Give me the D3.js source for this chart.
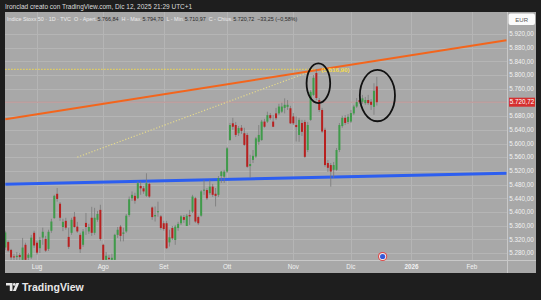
<!DOCTYPE html>
<html>
<head>
<meta charset="utf-8">
<script src="https://cdn.jsdelivr.net/npm/d3@7"></script>
<style>
  html, body { margin: 0; padding: 0; background: #1e1e1e; }
  svg { display: block; font-family: "Liberation Sans", Arial, sans-serif; }
</style>
</head>
<body>
<div id="chart"></div>
<script>
// daily bars, first one is index -11 (mid June), index 0 = 1 Jul 2025
const startIndex = -11;

const open = [
  5296,5312,5289,5270,5268,5274,5260,5304,5266,5267,
  5339,5310,5294,5325,5321,5292,5345,5382,5453,5424,
  5356,5374,5327,5339,5386,5357,5333,5304,5368,5343,
  5383,5339,5377,5406,5304,5260,5266,5260,5260,5333,
  5357,5336,5343,5391,5440,5447,5440,5476,5469,5447,
  5482,5413,5387,5401,5387,5367,5367,5311,5353,5318,
  5353,5367,5385,5359,5391,5401,5440,5385,5389,5463,
  5464,5455,5474,5453,5450,5505,5503,5518,5610,5659,
  5654,5630,5646,5630,5625,5534,5552,5562,5605,5610,
  5664,5664,5683,5664,5688,5688,5693,5704,5707,5703,
  5679,5654,5625,5660,5663,5581,5669,5742,5806,5727,
  5698,5640,5543,5537,5523,5523,5581,5651,5675,5663,
  5664,5688,5708,5727,5722,5718,5727,5722,5707,5766.84
];
const high = [
  5345,5316,5292,5278,5283,5280,5324,5310,5280,5333,
  5345,5316,5327,5354,5330,5348,5380,5450,5470,5429,
  5380,5383,5354,5383,5400,5371,5339,5350,5397,5365,
  5415,5412,5403,5421,5307,5283,5275,5278,5336,5356,
  5362,5354,5394,5445,5460,5456,5489,5489,5476,5513,
  5485,5416,5416,5430,5391,5374,5374,5348,5359,5362,
  5371,5391,5391,5394,5406,5450,5444,5389,5464,5494,
  5470,5494,5482,5470,5505,5520,5523,5590,5660,5675,
  5663,5651,5654,5646,5631,5567,5581,5619,5654,5669,
  5672,5693,5689,5683,5704,5716,5719,5732,5727,5710,
  5689,5679,5675,5669,5669,5663,5756,5800,5816.9,5733,
  5704,5646,5552,5543,5546,5587,5660,5681,5683,5686,
  5698,5713,5733,5739,5742,5736,5742,5730,5776,5794.70
];
const low = [
  5289,5283,5260,5258,5258,5260,5257,5257,5256,5263,
  5295,5275,5280,5304,5283,5286,5339,5380,5430,5374,
  5344,5348,5292,5333,5354,5339,5280,5298,5333,5336,
  5330,5333,5371,5316,5255,5254,5255,5254,5258,5324,
  5314,5314,5339,5386,5432,5424,5438,5450,5453,5444,
  5441,5377,5372,5386,5348,5345,5292,5299,5318,5304,
  5345,5362,5368,5359,5362,5397,5368,5362,5386,5450,
  5435,5450,5444,5416,5444,5485,5485,5514,5608,5640,
  5619,5622,5628,5593,5529,5500,5543,5558,5596,5608,
  5646,5660,5669,5648,5669,5683,5689,5688,5698,5657,
  5654,5606,5605,5622,5558,5575,5666,5739,5727,5692,
  5631,5532,5517,5474,5500,5520,5575,5646,5654,5657,
  5660,5683,5704,5716,5716,5713,5713,5698,5684,5710.97
];
const close = [
  5340,5287,5267,5268,5272,5268,5296,5260,5275,5325,
  5302,5281,5318,5342,5287,5342,5372,5447,5438,5383,
  5371,5354,5298,5377,5356,5343,5291,5343,5356,5356,
  5339,5383,5394,5321,5260,5272,5262,5266,5333,5348,
  5330,5340,5389,5437,5450,5433,5484,5469,5460,5484,
  5445,5385,5391,5402,5353,5350,5294,5326,5323,5357,
  5365,5387,5377,5389,5387,5445,5372,5367,5460,5465,
  5440,5474,5450,5447,5499,5518,5518,5586,5654,5649,
  5625,5645,5637,5596,5532,5540,5564,5615,5625,5664,
  5649,5683,5674,5649,5674,5708,5708,5713,5713,5659,
  5659,5648,5669,5634,5561,5654,5751,5792,5733,5698,
  5635,5537,5529,5518,5537,5581,5654,5675,5660,5678,
  5689,5708,5721,5721,5732,5727,5718,5713,5754,5720.72
];

const priceTicks = [5280,5320,5360,5400,5440,5480,5520,5560,5600,5640,5680,5720,5760,5800,5840,5880,5920];
const monthLabels = ["Lug","Ago","Set","Ott","Nov","Dic","2026","Feb"];
const monthIndex = [0,23,44,66,89,109,130,151];

const lastPrice = 5720.72;
const highLevel = 5816.90;
// drawings: [index, price] pairs
const orangeLine = [[-11,5671],[163,5902]];
const blueLine = [[-11,5481],[163,5513]];
const yellowRay = [[14,5560],[97,5816.9]];
const levelLine = [[-11,5816.9],[97,5816.9]];
// ellipses: [index, price, radius in bars, radius in price]
const circles = [[97.7,5776,4.1,58],[118.2,5740,6.1,75]];
const eventIndex = 120;

const legend = [
  {t:"Indice Stoxx 50 · 1D · TVC", c:"#ececec", gap:0},
  {t:"O - Apert.", c:"#ececec", gap:3},
  {t:"5.766,84", c:"#2a2a2a", gap:0.5},
  {t:"H - Max.", c:"#ececec", gap:3},
  {t:"5.794,70", c:"#2a2a2a", gap:0.5},
  {t:"L - Min.", c:"#ececec", gap:3},
  {t:"5.710,97", c:"#2a2a2a", gap:0.5},
  {t:"C - Chius.", c:"#ececec", gap:3},
  {t:"5.720,72", c:"#2a2a2a", gap:0.5},
  {t:"−33,25 (−0,58%)", c:"#2a2a2a", gap:3}
];

const drawChart = () => {
  const width = 541, height = 300;
  const pane = {left: 5, top: 12, right: 507, bottom: 260};
  const it = d3.formatLocale({decimal: ",", thousands: ".", grouping: [3], currency: ["", "€"]});
  const fmt = it.format(",.2f");

  const x = d3.scaleLinear().domain([0, 100]).range([37, 325]);
  const y = d3.scaleLinear().domain([5280, 5920]).range([253, 34]);

  const bars = open.map((o, k) => ({i: startIndex + k, o, h: high[k], l: low[k], c: close[k]}));

  const svg = d3.select("#chart").append("svg")
      .attr("width", width)
      .attr("height", height);

  svg.append("rect").attr("width", width).attr("height", height).attr("fill", "#1e1e1e");
  svg.append("rect")
      .attr("x", 5).attr("y", 12).attr("width", 531).attr("height", 261)
      .attr("fill", "#a8a8a8");

  svg.append("defs").append("clipPath").attr("id", "pane")
    .append("rect")
      .attr("x", pane.left).attr("y", pane.top)
      .attr("width", pane.right - pane.left).attr("height", pane.bottom - pane.top);

  const grid = svg.append("g").attr("clip-path", "url(#pane)");
  grid.selectAll(".hg").data(priceTicks).enter().append("line")
      .attr("x1", pane.left).attr("x2", pane.right)
      .attr("y1", d => Math.round(y(d)) + 0.5).attr("y2", d => Math.round(y(d)) + 0.5)
      .attr("stroke", "#b5b5b5");
  grid.selectAll(".vg").data(monthIndex).enter().append("line")
      .attr("x1", d => Math.round(x(d)) + 0.5).attr("x2", d => Math.round(x(d)) + 0.5)
      .attr("y1", pane.top).attr("y2", pane.bottom)
      .attr("stroke", "#b5b5b5");

  // axis separators
  svg.append("line").attr("x1", 507.5).attr("x2", 507.5).attr("y1", 12).attr("y2", 273)
      .attr("stroke", "#c8c8c8");
  svg.append("line").attr("x1", 5).attr("x2", 536).attr("y1", 260.5).attr("y2", 260.5)
      .attr("stroke", "#c8c8c8");

  const plot = svg.append("g").attr("clip-path", "url(#pane)");
  const line = d3.line().x(d => x(d[0])).y(d => y(d[1]));

  plot.append("line")
      .attr("x1", pane.left).attr("x2", pane.right)
      .attr("y1", y(lastPrice)).attr("y2", y(lastPrice))
      .attr("stroke", "#c98a8a").attr("stroke-width", 1).attr("opacity", 0.7);

  plot.append("path").datum(yellowRay).attr("d", line)
      .attr("fill", "none").attr("stroke", "#e4d98c").attr("stroke-width", 1.2)
      .attr("stroke-dasharray", "1.2,1.8");
  plot.append("path").datum(levelLine).attr("d", line)
      .attr("fill", "none").attr("stroke", "#f5dc4a").attr("stroke-width", 1.2)
      .attr("stroke-dasharray", "1.2,1.8");

  plot.append("path").datum(orangeLine).attr("d", line)
      .attr("fill", "none").attr("stroke", "#f3651c").attr("stroke-width", 2);
  plot.append("path").datum(blueLine).attr("d", line)
      .attr("fill", "none").attr("stroke", "#2c5ef0").attr("stroke-width", 3);

  const candles = plot.selectAll(".c").data(bars).enter().append("g");
  candles.append("line")
      .attr("x1", d => x(d.i)).attr("x2", d => x(d.i))
      .attr("y1", d => y(d.h)).attr("y2", d => y(d.l))
      .attr("stroke", "#7a7a7a").attr("stroke-width", 0.8);
  candles.append("rect")
      .attr("x", d => x(d.i) - 1)
      .attr("width", 2)
      .attr("y", d => y(Math.max(d.o, d.c)))
      .attr("height", d => Math.max(1, Math.abs(y(d.o) - y(d.c))))
      .attr("fill", d => d.c >= d.o ? "#3f9b4a" : "#b8201f");

  plot.append("text")
      .attr("x", x(yellowRay[1][0]) + 5).attr("y", y(highLevel) + 2.3)
      .attr("font-size", 6.2).attr("font-weight", "bold").attr("fill", "#f5dc4a")
      .text("(" + fmt(highLevel) + ")");

  plot.selectAll(".ell").data(circles).enter().append("ellipse")
      .attr("cx", d => x(d[0])).attr("cy", d => y(d[1]))
      .attr("rx", d => x(d[0] + d[2]) - x(d[0]))
      .attr("ry", d => y(d[1] - d[3]) - y(d[1]))
      .attr("fill", "none").attr("stroke", "#111").attr("stroke-width", 1.8);

  // price axis
  const lastY = y(lastPrice);
  svg.selectAll(".pl").data(priceTicks.filter(p => Math.abs(y(p) - lastY) > 8)).enter().append("text")
      .attr("x", 521.5).attr("y", d => y(d) + 2.3)
      .attr("text-anchor", "middle").attr("font-size", 6.3).attr("fill", "#f2f2f2")
      .text(d => fmt(d));
  svg.append("rect").attr("x", 509).attr("y", lastY - 4.5).attr("width", 26).attr("height", 9)
      .attr("fill", "#d62f2f");
  svg.append("text").attr("x", 522).attr("y", lastY + 2.3)
      .attr("text-anchor", "middle").attr("font-size", 6.3).attr("fill", "#ffffff")
      .text(fmt(lastPrice));
  svg.append("rect").attr("x", 508.5).attr("y", 13.5).attr("width", 26.5).attr("height", 11.5)
      .attr("rx", 2).attr("fill", "#fbfbfb");
  svg.append("text").attr("x", 521.7).attr("y", 21.5)
      .attr("text-anchor", "middle").attr("font-size", 6).attr("fill", "#555")
      .text("EUR");

  // time axis
  svg.selectAll(".tl").data(monthLabels).enter().append("text")
      .attr("x", (d, k) => x(monthIndex[k])).attr("y", 269)
      .attr("text-anchor", "middle").attr("font-size", 6.3).attr("fill", "#f2f2f2")
      .attr("font-weight", d => d === "2026" ? "bold" : "normal")
      .text(d => d);

  const ev = svg.append("g").attr("transform", `translate(${x(eventIndex)},256.5)`);
  ev.append("circle").attr("r", 4.6).attr("fill", "#e04a4a");
  ev.append("circle").attr("r", 3.5).attr("fill", "#f1f1f1");
  ev.append("circle").attr("r", 2.6).attr("fill", "#3558d8");

  // header + legend
  svg.append("text").attr("x", 5).attr("y", 8.5)
      .attr("font-size", 6.5).attr("fill", "#dcdcdc")
      .text("Ironclad creato con TradingView.com, Dic 12, 2025 21:29 UTC+1");
  svg.append("text").attr("x", 7).attr("y", 21.3)
      .attr("font-size", 5.4)
    .selectAll("tspan").data(legend).enter().append("tspan")
      .attr("dx", d => d.gap)
      .attr("fill", d => d.c)
      .text(d => d.t);

  // footer logo
  const logo = svg.append("g").attr("fill", "#e8e8e8");
  logo.append("path").attr("d", "M6,283 H12.5 V291 H9.8 V285.6 H6 Z");
  logo.append("circle").attr("cx", 14.3).attr("cy", 284.4).attr("r", 1.4);
  logo.append("path").attr("d", "M16.3,283 H19.2 L15.8,291 H12.9 Z");
  svg.append("text").attr("x", 22).attr("y", 291)
      .attr("font-size", 10.5).attr("font-weight", "bold").attr("fill", "#e8e8e8")
      .text("TradingView");
};

window.onload = drawChart;
</script>
</body>
</html>
